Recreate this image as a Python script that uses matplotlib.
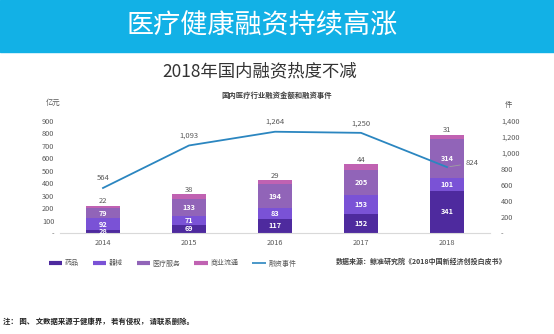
import matplotlib
matplotlib.use('Agg')
import numpy as np
from matplotlib import pyplot as plt
from matplotlib.patches import Rectangle
from matplotlib.lines import Line2D
from matplotlib.ticker import FuncFormatter

plt.rcParams['font.family'] = ['Noto Sans CJK SC', 'DejaVu Sans']

years = ['2014', '2015', '2016', '2017', '2018']
yaopin = [28, 69, 117, 152, 341]      # 药品
qixie = [92, 71, 83, 153, 101]        # 器械
yiliao = [79, 133, 194, 205, 314]     # 医疗服务
shangye = [22, 38, 29, 44, 31]        # 商业流通
events = [564, 1093, 1264, 1250, 824]  # 融资事件

series_names = ['药品', '器械', '医疗服务', '商业流通']
series_colors = ['#4e2a9e', '#7a52d6', '#9164b8', '#c062b2']
line_color = '#2b86c0'
gray = '#595959'

fig = plt.figure(figsize=(5.54, 3.34), dpi=100)
W, H = 554, 334

# header band
fig.patches.append(Rectangle((0, 1 - 52 / H), 1, 52 / H, transform=fig.transFigure,
                             color='#12b1e6', zorder=0))
fig.text(262 / W, 1 - 26 / H, '医疗健康融资持续高涨', color='white', fontsize=19.5,
         ha='center', va='center')
fig.text(260 / W, 1 - 71 / H, '2018年国内融资热度不减', color='#333333', fontsize=12.5,
         ha='center', va='center')
fig.text(277 / W, 1 - 95 / H, '国内医疗行业融资金额和融资事件', color='#404040', fontsize=5.3,
         ha='center', va='center', fontweight='bold')

ax = fig.add_axes([60 / W, 1 - 233.3 / H, 430 / W, 112.5 / H])
x = np.arange(len(years))
bw = 0.4
bottom = np.zeros(len(years))
data = [yaopin, qixie, yiliao, shangye]
for i, (vals, name, col) in enumerate(zip(data, series_names, series_colors)):
    ax.bar(x, vals, bw, bottom=bottom, color=col, label=name, zorder=2)
    for xi, v, b in zip(x, vals, bottom):
        if i < 3:
            ax.text(xi, b + v / 2, str(v), ha='center', va='center', color='white',
                    fontsize=5.3, fontweight='bold', zorder=4)
        else:
            ax.text(xi, b + v + 4, str(v), ha='center', va='bottom', color=gray,
                    fontsize=5.5, zorder=4)
    bottom = bottom + np.array(vals)

ax.set_xlim(-0.5, len(years) - 0.5)
ax.set_ylim(0, 900)
ax.set_yticks(range(0, 1000, 100))
ax.yaxis.set_major_formatter(FuncFormatter(lambda v, p: '-' if v == 0 else f'{int(v)}'))
ax.set_xticks(x)
ax.set_xticklabels(years)
for s in ['top', 'right', 'left']:
    ax.spines[s].set_visible(False)
ax.spines['bottom'].set_color('#d9d9d9')
ax.tick_params(axis='both', length=0, labelsize=5.3, colors=gray)
ax.tick_params(axis='y', pad=4)
ax.tick_params(axis='x', pad=4)

ax2 = ax.twinx()
ax2.plot(x, events, color=line_color, lw=1.3, zorder=3)
ax2.set_ylim(0, 1400)
ax2.set_yticks(range(0, 1600, 200))
ax2.yaxis.set_major_formatter(FuncFormatter(lambda v, p: '-' if v == 0 else f'{int(v):,}'))
for s in ['top', 'right', 'left', 'bottom']:
    ax2.spines[s].set_visible(False)
ax2.tick_params(axis='y', length=0, labelsize=5.3, colors=gray, pad=8)
for xi, v in zip(x[:-1], events[:-1]):
    ax2.text(xi, v + 70, f'{v:,}', ha='center', va='bottom', color=gray, fontsize=5.5)
ax2.annotate(f'{events[-1]:,}', xy=(x[-1], events[-1]), xytext=(x[-1] + 0.22, events[-1] + 50),
             ha='left', va='center', color=gray, fontsize=5.5,
             arrowprops=dict(arrowstyle='-', color='#a0a0a0', lw=0.6))

fig.text(53 / W, 1 - 103 / H, '亿元', color=gray, fontsize=5.3, ha='center', va='center')
fig.text(508 / W, 1 - 105 / H, '件', color=gray, fontsize=5.3, ha='center', va='center')

handles = [Line2D([0], [0], color=c, lw=3, solid_capstyle='butt') for c in series_colors]
handles.append(Line2D([0], [0], color=line_color, lw=1.2, solid_capstyle='butt'))
fig.legend(handles, series_names + ['融资事件'], loc='center left',
           bbox_to_anchor=(44 / W, 1 - 263.5 / H), ncol=5, frameon=False,
           fontsize=5, handlelength=1.9, handletextpad=0.4, columnspacing=2.0,
           labelcolor=gray, borderpad=0.2)

fig.text(336 / W, 1 - 261 / H, '数据来源：鲸准研究院《2018中国新经济创投白皮书》', color='#404040',
         fontsize=5, fontweight='bold', ha='left', va='center')
fig.text(3 / W, 1 - 321 / H, '注： 图、 文数据来源于健康界， 若有侵权， 请联系删除。', color='#222222',
         fontsize=5.3, fontweight='bold', ha='left', va='center')

fig.savefig('out.png', dpi=100)
